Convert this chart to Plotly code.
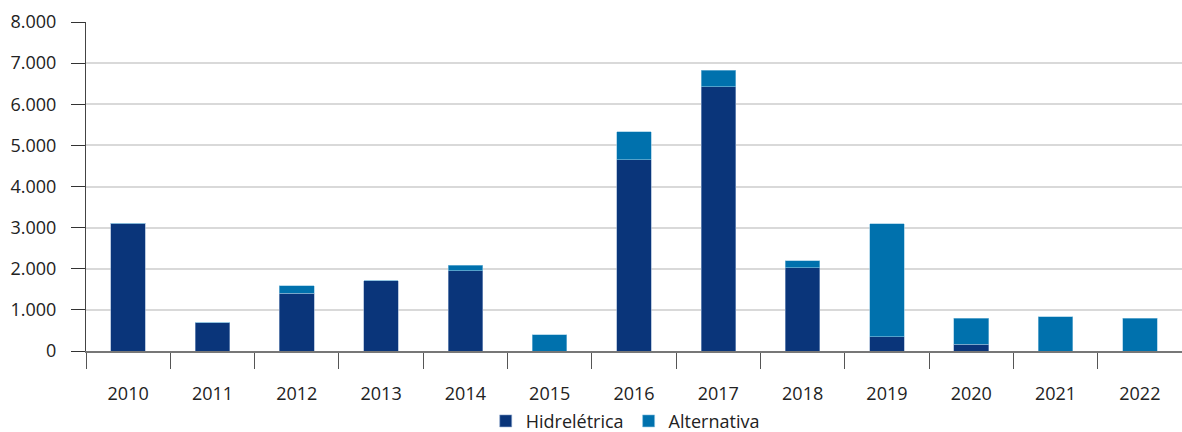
import plotly.graph_objects as go

years = ["2010","2011","2012","2013","2014","2015","2016","2017","2018","2019","2020","2021","2022"]
hidreletrica = [3110, 690, 1410, 1710, 1950, 0, 4650, 6430, 2030, 350, 170, 0, 0]
alternativa = [0, 0, 180, 0, 140, 390, 680, 400, 160, 2740, 630, 830, 800]

fig = go.Figure()
fig.add_bar(x=years, y=hidreletrica, name="Hidrelétrica",
            marker=dict(color="#0a357a", line=dict(color="#8fa8cc", width=0.6)))
fig.add_bar(x=years, y=alternativa, name="Alternativa",
            marker=dict(color="#0071ad", line=dict(color="#8cc3e0", width=0.6)))

fig.update_layout(
    barmode="stack",
    bargap=0.59,
    width=1182, height=432,
    margin=dict(l=86, r=0, t=22, b=81, autoexpand=False),
    plot_bgcolor="white", paper_bgcolor="white",
    separators=",.",
    font=dict(family="Open Sans, Noto Sans, sans-serif", size=18, color="#222222"),
    legend=dict(orientation="h", x=0.492, xanchor="center", yref="container", y=0.025,
                yanchor="middle", font=dict(size=18), traceorder="normal",
                itemwidth=30, tracegroupgap=0),
    showlegend=True,
)
fig.update_xaxes(
    type="category", tickson="boundaries", ticks="outside", ticklen=16,
    tickcolor="#555555", tickwidth=1, automargin=False,
    showline=True, linecolor="#777777", linewidth=2,
    showgrid=False, tickfont=dict(size=18), ticklabelstandoff=25,
)
fig.update_yaxes(
    range=[0, 8000], dtick=1000, tickformat=",d", automargin=False,
    ticks="outside", ticklen=14, tickcolor="#333333",
    showline=True, linecolor="#444444", linewidth=1,
    showgrid=True, gridcolor="#d9d9d9", gridwidth=1.5,
    zeroline=False, tickfont=dict(size=18), ticklabelstandoff=11,
)

fig.write_html("out.html")
